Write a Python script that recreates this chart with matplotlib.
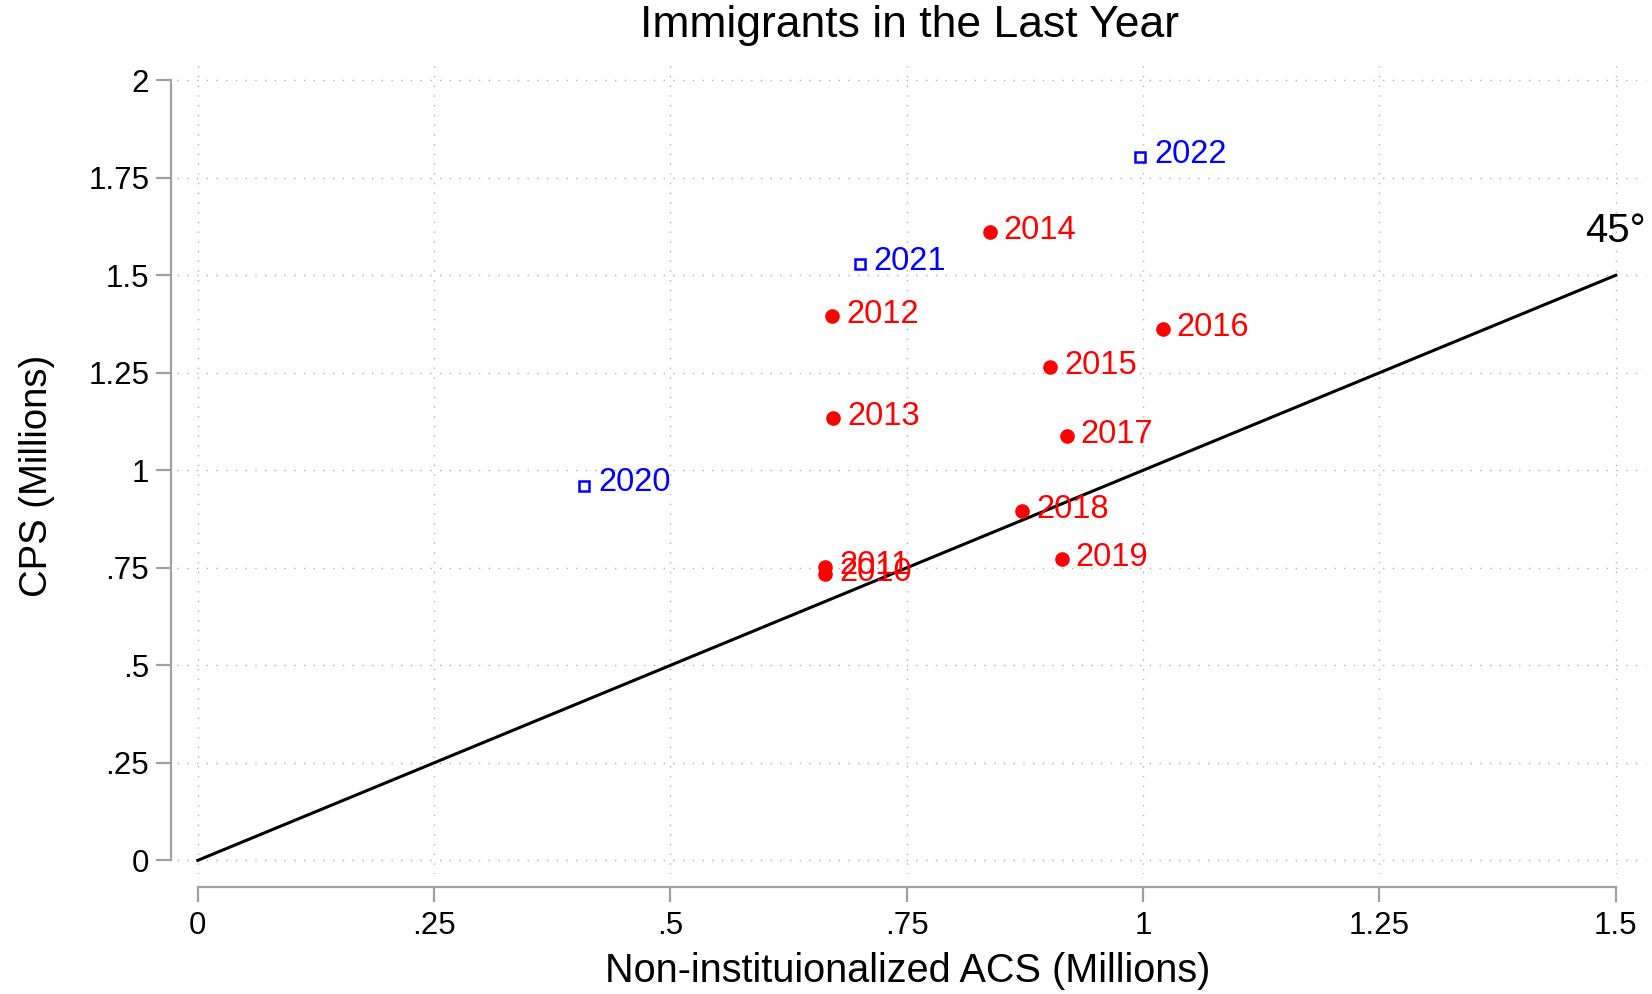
import matplotlib.pyplot as plt
import numpy as np

plt.rcParams['font.family'] = ['Liberation Sans', 'DejaVu Sans']

# ACS (x) vs CPS (y), millions
years_red = ['2010', '2011', '2012', '2013', '2014', '2015', '2016', '2017', '2018', '2019']
acs_red = [0.664, 0.664, 0.671, 0.672, 0.838, 0.902, 1.021, 0.919, 0.872, 0.914]
cps_red = [0.734, 0.753, 1.395, 1.134, 1.611, 1.266, 1.363, 1.088, 0.896, 0.772]

years_blue = ['2020', '2021', '2022']
acs_blue = [0.409, 0.700, 0.997]
cps_blue = [0.961, 1.528, 1.803]

xticks = [0, 0.25, 0.5, 0.75, 1, 1.25, 1.5]
xticklabels = ['0', '.25', '.5', '.75', '1', '1.25', '1.5']
yticks = [0, 0.25, 0.5, 0.75, 1, 1.25, 1.5, 1.75, 2]
yticklabels = ['0', '.25', '.5', '.75', '1', '1.25', '1.5', '1.75', '2']

W, H = 1652, 994
fig = plt.figure(figsize=(W / 100, H / 100), dpi=100)
# axes box in pixels
left, right, top, bottom = 177, 1646, 58, 874
ax = fig.add_axes([left / W, 1 - bottom / H, (right - left) / W, (bottom - top) / H])
ax.set_xlim(-0.022, 1.532)
ax.set_ylim(-0.035, 2.057)

gridcol = '#b0b0b0'
for x in xticks:
    ax.axvline(x, color=gridcol, lw=1.0, ls=(0, (1, 6)), zorder=0)
for y in yticks:
    ax.axhline(y, color=gridcol, lw=1.0, ls=(0, (1, 6)), zorder=0)

ax.plot([0, 1.5], [0, 1.5], color='black', lw=2.2, zorder=2)
ax.text(1.5, 1.585, '45°', fontsize=29, ha='center', va='baseline')

ax.plot(acs_red, cps_red, 'o', color='red', markersize=9.5, zorder=3, linestyle='none')
for yr, x, y in zip(years_red, acs_red, cps_red):
    ax.annotate(yr, (x, y), xytext=(10, 1), textcoords='offset points',
                color='red', fontsize=23.5, va='center', ha='left', zorder=4)

ax.plot(acs_blue, cps_blue, 's', markerfacecolor='white', markeredgecolor='blue',
        markeredgewidth=1.8, markersize=7.5, zorder=3, linestyle='none')
for yr, x, y in zip(years_blue, acs_blue, cps_blue):
    ax.annotate(yr, (x, y), xytext=(10, 2), textcoords='offset points',
                color='blue', fontsize=23.5, va='center', ha='left', zorder=4)

ax.spines['top'].set_visible(False)
ax.spines['right'].set_visible(False)
for s in ['left', 'bottom']:
    ax.spines[s].set_color('#a0a0a0')
    ax.spines[s].set_linewidth(1.6)
ax.spines['left'].set_position(('outward', 4))
ax.spines['bottom'].set_position(('outward', 9))
ax.spines['left'].set_bounds(0, 2)
ax.spines['bottom'].set_bounds(0, 1.5)

ax.set_xticks(xticks)
ax.set_xticklabels(xticklabels)
ax.set_yticks(yticks)
ax.set_yticklabels(yticklabels)
ax.tick_params(axis='both', colors='#a0a0a0', labelcolor='black', labelsize=22.5,
               length=11, width=1.6)
ax.tick_params(axis='x', pad=7)
ax.tick_params(axis='y', pad=5)

fig.text(910 / W, 1 - 26 / H, 'Immigrants in the Last Year', fontsize=32,
         ha='center', va='center')
fig.text(908 / W, 1 - 971 / H, 'Non-instituionalized ACS (Millions)', fontsize=28.5,
         ha='center', va='center')
fig.text(37 / W, 1 - 476 / H, 'CPS (Millions)', fontsize=27.5, rotation=90,
         ha='center', va='center')

fig.savefig('out.png', dpi=100)
